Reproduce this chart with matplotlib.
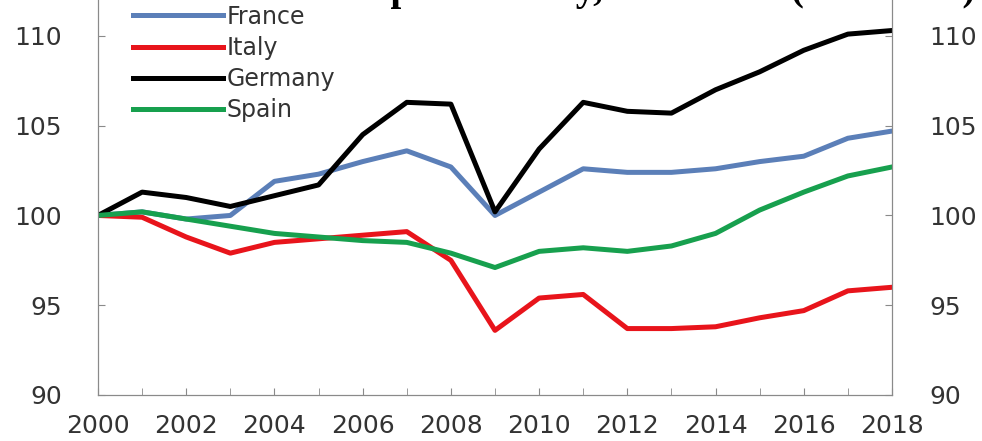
import matplotlib
matplotlib.use("Agg")
import matplotlib.pyplot as plt
import numpy as np

years = np.arange(2000, 2019)
france = [100.0, 100.2, 99.8, 100.0, 101.9, 102.3, 103.0, 103.6, 102.7, 100.0,
          101.3, 102.6, 102.4, 102.4, 102.6, 103.0, 103.3, 104.3, 104.7]
italy = [100.0, 99.9, 98.8, 97.9, 98.5, 98.7, 98.9, 99.1, 97.5, 93.6,
         95.4, 95.6, 93.7, 93.7, 93.8, 94.3, 94.7, 95.8, 96.0]
germany = [100.0, 101.3, 101.0, 100.5, 101.1, 101.7, 104.5, 106.3, 106.2, 100.2,
           103.7, 106.3, 105.8, 105.7, 107.0, 108.0, 109.2, 110.1, 110.3]
spain = [100.0, 100.2, 99.8, 99.4, 99.0, 98.8, 98.6, 98.5, 97.9, 97.1,
         98.0, 98.2, 98.0, 98.3, 99.0, 100.3, 101.3, 102.2, 102.7]

series = [("France", france, "#5b7fb8"),
          ("Italy", italy, "#e8141b"),
          ("Germany", germany, "#000000"),
          ("Spain", spain, "#17a04e")]

title = "Labour productivity, 2000-2018 (2000=100)"

fig = plt.figure(figsize=(9.82, 4.41), dpi=100)
ax = fig.add_axes([98 / 982, 46 / 441, 794 / 982, 395 / 441])

for name, vals, col in series:
    ax.plot(years, vals, color=col, lw=3.6, label=name)

ax.set_xlim(2000, 2018)
ax.set_ylim(90, 112)
ax.set_xticks(np.arange(2000, 2019, 2))
ax.set_xticks(np.arange(2001, 2018, 2), minor=True)
ax.set_yticks([90, 95, 100, 105, 110])

for s in ["left", "right", "bottom"]:
    ax.spines[s].set_color("#8a8a8a")
ax.spines["top"].set_visible(False)

ax.tick_params(axis="both", which="both", direction="in", length=5,
               color="#8a8a8a", labelsize=18, labelcolor="#333333")
ax.tick_params(axis="y", pad=26)
ax.tick_params(axis="x", pad=14)

ax2 = ax.twinx()
ax2.set_ylim(ax.get_ylim())
ax2.set_yticks([90, 95, 100, 105, 110])
ax2.spines["top"].set_visible(False)
for s in ["left", "right", "bottom"]:
    ax2.spines[s].set_color("#8a8a8a")
ax2.tick_params(axis="y", direction="in", length=5, color="#8a8a8a",
                labelsize=18, labelcolor="#333333", pad=27)

leg = ax.legend(loc="upper left", bbox_to_anchor=(0.0325, 1.012), frameon=False,
                fontsize=17, handlelength=3.8, handletextpad=0.15,
                labelspacing=0.3, borderaxespad=0)
for t in leg.get_texts():
    t.set_color("#333333")

# title mostly cut off at the top edge, as in the source image
fig.text(0.993, 1.0, title, ha="right", va="baseline",
         fontsize=28, fontweight="bold", family="Liberation Serif")

fig.savefig("out.png", dpi=100)
